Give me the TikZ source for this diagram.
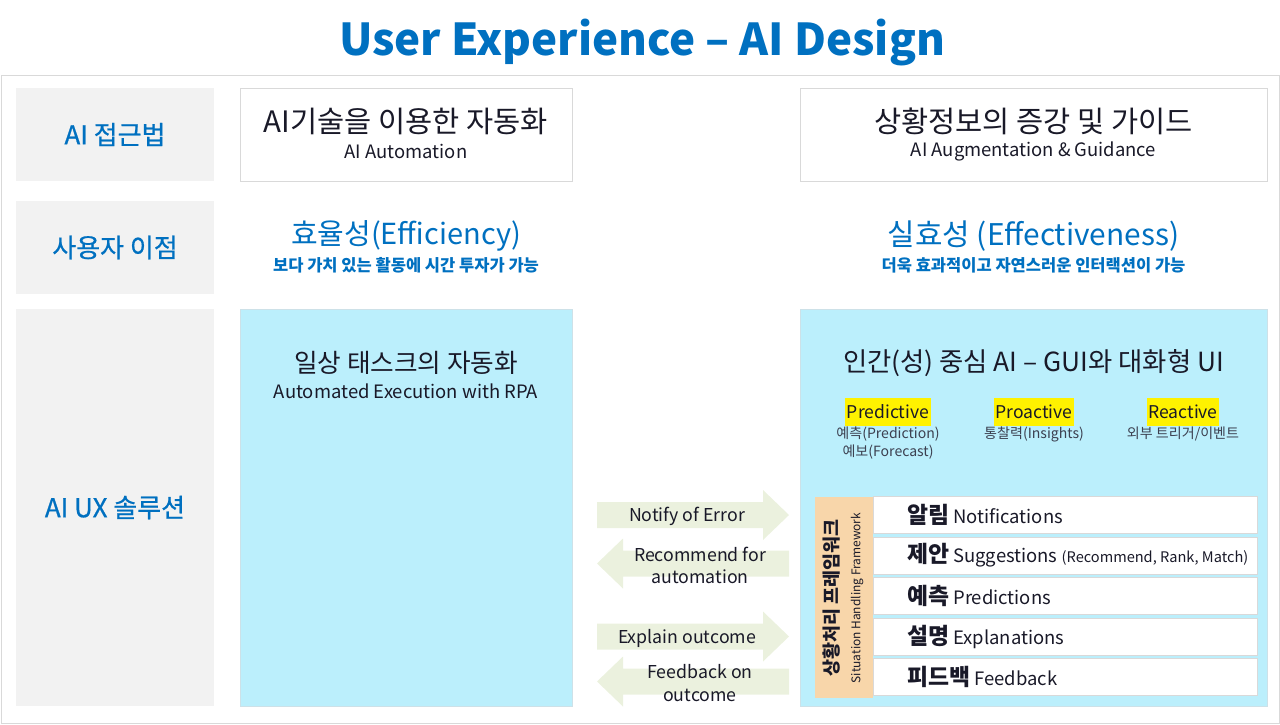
\documentclass[tikz,border=0pt]{standalone}
\usepackage{fontspec}
\setmainfont{Noto Sans CJK KR}
\newfontfamily\medfont[FakeBold=0.7]{Noto Sans CJK KR}
\usetikzlibrary{positioning}
\definecolor{uxblue}{RGB}{0,112,192}
\definecolor{panelgray}{RGB}{242,242,242}
\definecolor{linegray}{RGB}{217,217,217}
\definecolor{skyfill}{RGB}{187,239,252}
\definecolor{skyedge}{RGB}{205,225,232}
\definecolor{arrowfill}{RGB}{235,241,222}
\definecolor{tanfill}{RGB}{248,214,170}
\definecolor{inktext}{RGB}{25,25,40}
\definecolor{subtext}{RGB}{60,64,80}
\newcommand{\fsz}[2]{\fontsize{#1}{#2}\selectfont}
\newcommand{\suggestextra}{{\fsz{8.3}{10}(Recommend, Rank, Match)}}

\begin{document}
\begin{tikzpicture}[x=0.02cm, y=-0.02cm,
        every node/.style={inner sep=0pt, align=center},
        rowlabel/.style={fill=panelgray, text=uxblue, minimum width=3.96cm, font=\medfont\fsz{14.8}{17}},
        topbox/.style={draw=linegray, fill=white, minimum height=1.86cm},
        skypanel/.style={fill=skyfill, draw=skyedge, minimum height=7.94cm},
        headline/.style={text=inktext, font=\fsz{15}{18}},
        subline/.style={text=inktext, font=\fsz{10.5}{13}},
        gainline/.style={text=uxblue, font=\fsz{16.5}{19}},
        gainnote/.style={text=uxblue, font=\fsz{9.4}{11}\bfseries},
        modetag/.style={fill=yellow, text=inktext, font=\fsz{10}{12}, minimum height=0.56cm, inner xsep=1pt},
        modenote/.style={text=subtext, font=\fsz{8}{10.5}},
        flowtext/.style={text=inktext, font=\fsz{10.1}{12.6}},
        flowarrow/.style={fill=arrowfill},
        situbox/.style={draw=linegray, fill=white, minimum width=7.68cm, minimum height=0.74cm}]
    \useasboundingbox (0,0) rectangle (1280,724);

    % title and frame
    \node[text=uxblue, font=\fsz{25}{29}\bfseries] (title) at (642,42) {User Experience – AI Design};
    \draw[linegray] (1,75) rectangle (1279,723);

    % row labels
    \node[rowlabel, minimum height=1.86cm] (approach) at (115,134.5) {AI 접근법};
    \node[rowlabel, minimum height=1.86cm] (benefit) at (115,247.5) {사용자 이점};
    \node[rowlabel, minimum height=7.94cm] (solution) at (115,507.5) {AI UX 솔루션};

    % approach
    \node[topbox, minimum width=6.64cm] (autobox) at (406,134.5) {};
    \node[headline, font=\fsz{16.8}{20}] (autohead) at (406,121) {AI기술을 이용한 자동화};
    \node[subline] (autosub) at (406,151) {AI Automation};
    \node[topbox, minimum width=9.34cm] (augbox) at (1033.5,134.5) {};
    \node[headline, font=\fsz{16.8}{20}] (aughead) at (1033.5,121) {상황정보의 증강 및 가이드};
    \node[subline] (augsub) at (1033.5,151) {AI Augmentation \& Guidance};

    % benefit
    \node[gainline] (effic) at (406,236) {효율성(Efficiency)};
    \node[gainnote] (efficnote) at (406,265) {보다 가치 있는 활동에 시간 투자가 가능};
    \node[gainline, font=\fsz{17}{20}] (effect) at (1033.5,236) {실효성 (Effectiveness)};
    \node[gainnote] (effectnote) at (1033.5,265) {더욱 효과적이고 자연스러운 인터랙션이 가능};

    % solution panels
    \node[skypanel, minimum width=6.64cm] (autopanel) at (406,507.5) {};
    \node[headline, font=\fsz{14.6}{17}] (rpahead) at (406,363) {일상 태스크의 자동화};
    \node[subline] (rpasub) at (406,391) {Automated Execution with RPA};
    \node[skypanel, minimum width=9.34cm] (augpanel) at (1033.5,507.5) {};
    \node[headline] (guihead) at (1033.5,363) {인간(성) 중심 AI – GUI와 대화형 UI};

    \node[modetag] (predictive) at (888,412) {Predictive};
    \node[modenote] (prednote) at (888,443) {예측(Prediction)\\예보(Forecast)};
    \node[modetag] (proactive) at (1034,412) {Proactive};
    \node[modenote] (pronote) at (1034,434) {통찰력(Insights)};
    \node[modetag] (reactive) at (1183,412) {Reactive};
    \node[modenote] (reanote) at (1183,434) {외부 트리거/이벤트};

    % situation handling framework
    \node[fill=tanfill, minimum width=1.16cm, minimum height=4.02cm] (frame) at (844,597.5) {};
    \node[rotate=90, text=inktext, font=\fsz{10.5}{12}\bfseries] (frameko) at (832,598) {상황처리 프레임워크};
    \node[rotate=90, text=inktext, font=\fsz{6.8}{8}] (frameen) at (857,598) {Situation Handling Framework};
    \foreach \ko/\en [count=\i from 0] in {알림/Notifications, 제안/Suggestions \suggestextra,
            예측/Predictions, 설명/Explanations, 피드백/Feedback} {
        \node[situbox] (row\i) at (1065,515+40.5*\i) {};
        \node[anchor=west, text=inktext] (rowtext\i) at (907,515+40.5*\i)
            {{\fsz{13}{15}\bfseries \ko} {\fsz{10.5}{13}\en}};
    }

    % flow arrows
    \foreach \y/\d in {515/1, 563.5/-1, 636.5/1, 681.5/-1}
        \fill[flowarrow] (693-96*\d,\y-13) -- (693+70*\d,\y-13) -- (693+70*\d,\y-25)
            -- (693+96*\d,\y) -- (693+70*\d,\y+25) -- (693+70*\d,\y+13) -- (693-96*\d,\y+13) -- cycle;
    \node[flowtext] (notify) at (687,516) {Notify of Error};
    \node[flowtext] (recommend) at (700,565) {Recommend for\\automation};
    \node[flowtext] (explain) at (687,638) {Explain outcome};
    \node[flowtext] (feedback) at (700,683) {Feedback on\\outcome};
\end{tikzpicture}
\end{document}
